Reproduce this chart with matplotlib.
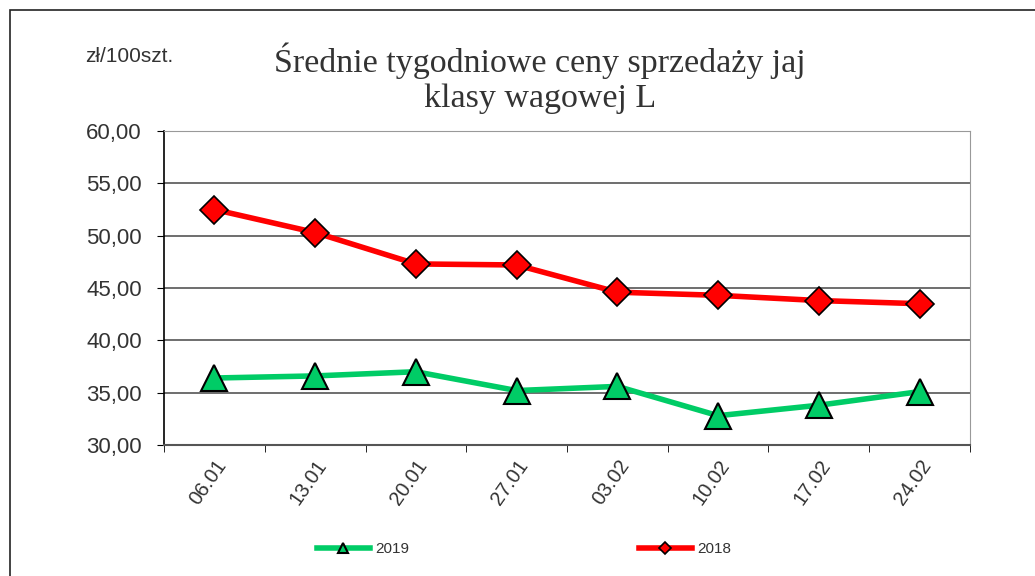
import numpy as np
import matplotlib.pyplot as plt
from matplotlib.lines import Line2D
from matplotlib.patches import Rectangle

# dane
weeks = ["06.01", "13.01", "20.01", "27.01", "03.02", "10.02", "17.02", "24.02"]
price_2019 = [36.4, 36.6, 37.0, 35.2, 35.6, 32.8, 33.8, 35.1]
price_2018 = [52.5, 50.3, 47.3, 47.2, 44.6, 44.3, 43.8, 43.5]

green = "#00CC66"
red = "#FF0000"
txt = "#333333"

fig = plt.figure(figsize=(10.35, 5.76), dpi=100)
ax = fig.add_axes([164 / 1035, 1 - 445 / 576, 806 / 1035, 314 / 576])

x = np.arange(len(weeks))
ax.plot(x, price_2019, color=green, lw=4, marker="^", ms=19,
        markerfacecolor=green, markeredgecolor="black", markeredgewidth=1.5, zorder=3)
ax.plot(x, price_2018, color=red, lw=4, marker="D", ms=14,
        markerfacecolor=red, markeredgecolor="black", markeredgewidth=1.2, zorder=4)

ax.set_xlim(-0.5, len(weeks) - 0.5)
ax.set_ylim(30, 60)
ax.set_yticks(np.arange(30, 61, 5))
ax.set_yticklabels([f"{v:.2f}".replace(".", ",") for v in np.arange(30, 61, 5)],
                   fontsize=16, fontname="Liberation Sans", color=txt)
ax.yaxis.grid(True, color="#555555", lw=1.2)
ax.set_axisbelow(True)

ax.set_xticks(x)
ax.set_xticklabels(weeks, rotation=55, ha="right", rotation_mode="anchor",
                   fontsize=14.5, fontname="Liberation Sans", color=txt)
ax.tick_params(axis="x", length=0, pad=8)
ax.set_xticks(np.arange(-0.5, len(weeks)), minor=True)
ax.tick_params(axis="x", which="minor", length=5, color="black", direction="out")
ax.tick_params(axis="y", length=5, color="black", direction="out", pad=11)

for s in ["top", "right"]:
    ax.spines[s].set_color("#999999")
ax.spines["bottom"].set_color("#555555")
ax.spines["bottom"].set_linewidth(1.5)
ax.spines["left"].set_color("black")
ax.spines["left"].set_linewidth(1.2)

fig.text(540 / 1035, 1 - 78 / 576, "Średnie tygodniowe ceny sprzedaży jaj\nklasy wagowej L",
         ha="center", va="center", fontsize=24.5, fontname="Liberation Serif",
         color=txt, linespacing=1.2)
fig.text(85 / 1035, 1 - 57 / 576, "zł/100szt.", ha="left", va="center",
         fontsize=15, fontname="Liberation Sans", color=txt)

# ramka wykresu
fig.patches.append(Rectangle((10 / 1035, -0.1), 1.2, 1 - 10 / 576 + 0.1,
                             transform=fig.transFigure, fill=False,
                             edgecolor="#222222", lw=1.2))

handles = [
    Line2D([], [], color=green, lw=4, marker="^", ms=7, markerfacecolor=green,
           markeredgecolor="black", markeredgewidth=1.5),
    Line2D([], [], color=red, lw=4, marker="D", ms=6, markerfacecolor=red,
           markeredgecolor="black", markeredgewidth=1.2),
]
fig.legend([handles[0]], ["2019"], loc="center left",
           bbox_to_anchor=(303 / 1035, 1 - 549 / 576), frameon=False,
           prop={"family": "Liberation Sans", "size": 11}, handlelength=3.5,
           handletextpad=0.3, labelcolor=txt)
fig.legend([handles[1]], ["2018"], loc="center left",
           bbox_to_anchor=(625 / 1035, 1 - 549 / 576), frameon=False,
           prop={"family": "Liberation Sans", "size": 11}, handlelength=3.5,
           handletextpad=0.3, labelcolor=txt)

fig.savefig("out.png", dpi=100)
